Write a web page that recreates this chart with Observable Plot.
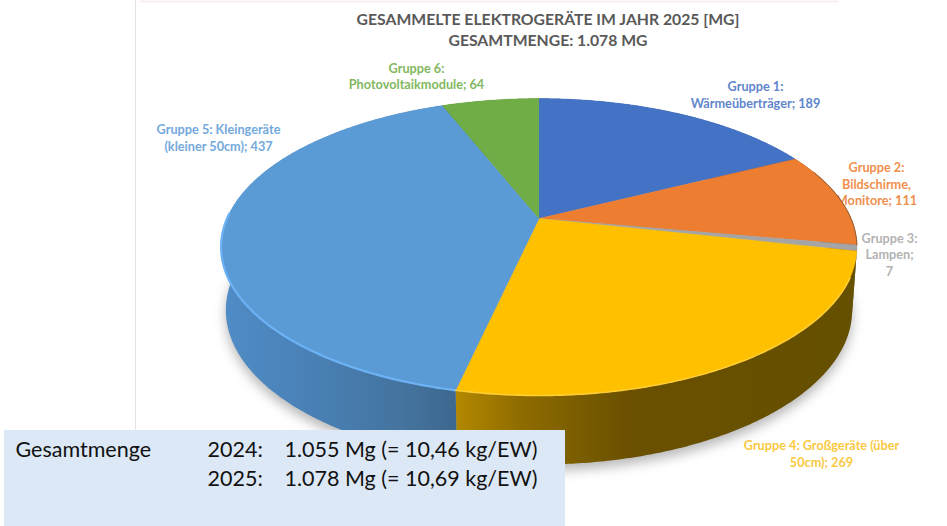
<!DOCTYPE html>
<html lang="de">
<head>
<meta charset="utf-8">
<title>Gesammelte Elektrogeräte 2025</title>
<script src="https://cdn.jsdelivr.net/npm/d3@7"></script>
<script src="https://cdn.jsdelivr.net/npm/@observablehq/plot@0.6"></script>
<style>
  html, body { margin: 0; padding: 0; background: #fff; }
  svg { display: block; }
</style>
</head>
<body>
<div id="chart"></div>
<script>
// ---- data ----
const groups = ["Gruppe 1", "Gruppe 2", "Gruppe 3", "Gruppe 4", "Gruppe 5", "Gruppe 6"];
const amounts = [189, 111, 7, 269, 437, 64];
const labelTexts = [
  "Gruppe 1:\nWärmeüberträger; 189",
  "Gruppe 2:\nBildschirme,\nMonitore; 111",
  "Gruppe 3:\nLampen;\n7",
  "Gruppe 4: Großgeräte (über\n50cm); 269",
  "Gruppe 5: Kleingeräte\n(kleiner 50cm); 437",
  "Gruppe 6:\nPhotovoltaikmodule; 64"
];
const titleLines = "GESAMMELTE ELEKTROGERÄTE IM JAHR 2025 [MG]\nGESAMTMENGE: 1.078 MG";
const boxHeads = ["Gesamtmenge"];
const boxYears = ["2024:", "2025:"];
const boxTotals = ["1.055 Mg (= 10,46 kg/EW)", "1.078 Mg (= 10,69 kg/EW)"];

// ---- styling / layout ----
const faceColors = ["#4472c4", "#ed7d31", "#a5a5a5", "#ffc000", "#5b9bd5", "#70ad47"];
const labelColors = ["#5f86cc", "#ef8f4e", "#b3b3b3", "#fbc93f", "#73a9dc", "#82b85e"];
const wallFills = ["#2f4f88", "#7a4318", "#555555", "url(#wallYellow)", "url(#wallBlue)", "#4f7a32"];
const labelPos = [[755, 93.5], [876, 183], [889, 253.5], [821, 452.5], [218, 136.5], [416, 75]];
const W = 947, H = 526;
const cx = 538.5, cy = 218;          // pie centre on the top face
const A = 312, B = 143, K = 0.192;   // perspective tilt of the disc
const baseOffset = 62, baseX = 0.985, baseY = 1.04;  // wall base relative to the rim

// perspective projection of a rim point at a given angle
function rim(deg, bottom) {
  const t = deg * Math.PI / 180, u = Math.sin(t), v = Math.cos(t), w = 1 + K * v;
  return bottom
    ? {x: cx + baseX * A * u / w, y: cy - baseY * B * v / w + baseOffset}
    : {x: cx + A * u / w, y: cy - B * v / w};
}
function arc(a0, a1, bottom) {
  const n = Math.max(2, Math.ceil(Math.abs(a1 - a0) * 2));
  return d3.range(n + 1).map(i => rim(a0 + (a1 - a0) * i / n, bottom));
}
const total = d3.sum(amounts);
const ends = d3.cumsum(amounts);
const slices = groups.map((g, i) => ({
  g, i,
  a0: (i ? ends[i - 1] : 0) / total * 360,
  a1: ends[i] / total * 360
}));
const facePoly = s => [{x: cx, y: cy}, ...arc(s.a0, s.a1, false)];
const wallPoly = s => [...arc(s.a0, s.a1, false), ...arc(s.a1, s.a0, true)];

function gradient(id, stops) {
  const g = d3.create("svg:linearGradient").attr("id", id)
    .attr("gradientUnits", "userSpaceOnUse")
    .attr("x1", 0).attr("x2", W).attr("y1", 0).attr("y2", 0);
  stops.forEach(([x, c]) => g.append("stop").attr("offset", x / W).attr("stop-color", c));
  return g.node();
}
const defs = () => {
  const d = d3.create("svg:defs");
  d.append(() => gradient("wallBlue", [[222, "#508cc6"], [300, "#4a82b8"], [400, "#44749f"], [456, "#3d688f"]]));
  d.append(() => gradient("wallYellow", [[456, "#b38800"], [520, "#8f6c00"], [570, "#7d5f00"], [630, "#6a5000"], [860, "#645000"]]));
  return d.node();
};

const marks = [
  defs,
  Plot.ruleY([1], {x1: 140, x2: 838, stroke: "#fbeef0", strokeWidth: 2}),
  Plot.ruleX([135], {y1: 0, y2: 430, stroke: "#e3e3e3", strokeWidth: 1}),
  // title
  Plot.text([titleLines], {x: 547.5, y: 28, text: d => d, fontFamily: "Lato", fontWeight: 700, fontSize: 15.75, fill: "#595959", lineHeight: 1.33, lineAnchor: "middle"}),
  // data labels sit beneath the disc
  Plot.text(labelTexts, {
    x: (d, i) => labelPos[i][0], y: (d, i) => labelPos[i][1], text: d => d,
    fill: (d, i) => labelColors[i], fontFamily: "Lato", fontWeight: 700, fontSize: 12.7, lineHeight: 1.3, lineAnchor: "middle"
  }),
  // soft shadow under the disc
  Plot.line(arc(0, 360, true), {x: "x", y: d => d.y + 6, fill: "#707070", stroke: "none", fillOpacity: 0.5, imageFilter: "blur(6px)"}),
  // walls
  ...slices.map(s => Plot.line(wallPoly(s), {x: "x", y: "y", fill: wallFills[s.i], stroke: "none"})),
  // top faces
  ...slices.map(s => Plot.line(facePoly(s), {x: "x", y: "y", fill: faceColors[s.i], stroke: faceColors[s.i], strokeWidth: 0.4})),
  // bevel highlights on the rim
  Plot.line(arc(slices[4].a0, 272, false), {x: "x", y: "y", stroke: "#6cb2f4", strokeWidth: 2.2}),
  Plot.line(arc(slices[3].a0 + 10, slices[3].a1, false), {x: "x", y: "y", stroke: "#ffcd33", strokeWidth: 1.6}),
  Plot.line(arc(70, slices[1].a1, false), {x: "x", y: "y", stroke: "#8a5a30", strokeWidth: 1}),
  // info box
  Plot.rect([0], {x1: 4, x2: 565, y1: 430, y2: 526, fill: "#dce8f5"}),
  Plot.text(boxHeads, {x: 15, y: 450, text: d => d, textAnchor: "start", fontFamily: "Lato", fontSize: 21.5, fill: "#111"}),
  Plot.text(boxYears, {x: 207, y: (d, i) => 450 + i * 29, text: d => d, textAnchor: "start", fontFamily: "Lato", fontSize: 21.5, fill: "#111"}),
  Plot.text(boxTotals, {x: 284, y: (d, i) => 450 + i * 29, text: d => d, textAnchor: "start", fontFamily: "Lato", fontSize: 21.5, fill: "#111"})
];

const chart = Plot.plot({
  width: W, height: H,
  margin: 0,
  x: {domain: [0, W], range: [0, W], axis: null},
  y: {domain: [0, H], range: [0, H], axis: null},
  style: {background: "#fff"},
  marks
});
document.getElementById("chart").append(chart);
</script>
</body>
</html>
